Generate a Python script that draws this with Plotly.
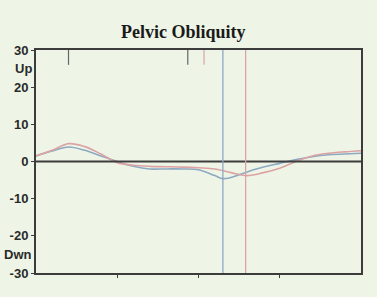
import plotly.graph_objects as go

pct = [0, 5, 10, 15, 20, 25, 30, 35, 40, 45, 50, 55, 57.5, 60, 65, 70, 75, 80, 85, 90, 95, 100]
blue_vals = [1.5, 2.8, 3.9, 3.0, 1.5, 0.0, -1.3, -2.0, -2.0, -2.0, -2.2, -3.8, -4.6, -4.3, -2.8, -1.5, -0.5, 0.5, 1.3, 1.8, 2.0, 2.2]
red_pct = [0, 5, 10, 15, 20, 25, 30, 35, 40, 45, 50, 55, 60, 65, 70, 75, 80, 85, 90, 95, 100]
red_vals = [1.5, 3.0, 4.8, 4.0, 2.0, -0.3, -1.0, -1.3, -1.4, -1.5, -1.7, -2.0, -3.0, -3.8, -3.0, -1.8, 0.0, 1.5, 2.2, 2.6, 2.9]

blue_event = 57.5
red_event = 64.5
dark_marks = [10, 46.7]
red_marks = [51.7]

ytick_vals = [30, 20, 10, 0, -10, -20, -30]
ytick_text = ["30", "20", "10", "0", "-10", "-20", "-30"]

BLUE = "#8ea9c2"
RED = "#dba3a3"
DARK = "#3c3c3c"
BG = "#eef5e7"

fig = go.Figure()
fig.add_trace(go.Scatter(x=pct, y=blue_vals, mode="lines", line=dict(color=BLUE, width=1.6, shape="spline"), hoverinfo="skip"))
fig.add_trace(go.Scatter(x=red_pct, y=red_vals, mode="lines", line=dict(color=RED, width=1.6, shape="spline"), hoverinfo="skip"))

shapes = [
    dict(type="line", x0=0, x1=100, y0=0, y1=0, xref="x", yref="y", line=dict(color=DARK, width=2)),
    dict(type="line", x0=blue_event, x1=blue_event, y0=-30, y1=30, xref="x", yref="y", line=dict(color=BLUE, width=1.3)),
    dict(type="line", x0=red_event, x1=red_event, y0=-30, y1=30, xref="x", yref="y", line=dict(color=RED, width=1.3)),
]
for m in dark_marks:
    shapes.append(dict(type="line", x0=m, x1=m, y0=30, y1=26, xref="x", yref="y", line=dict(color="#666666", width=1.2)))
for m in red_marks:
    shapes.append(dict(type="line", x0=m, x1=m, y0=30, y1=26, xref="x", yref="y", line=dict(color=RED, width=1.2)))

L, R, T, B = 36, 16, 50, 24
W, H = 377, 297
pw, ph = W - L - R, H - T - B

annotations = [
    dict(text="<b>Pelvic Obliquity</b>", x=(183 - L) / pw, y=(H - B - 32) / ph, xref="paper", yref="paper",
         yanchor="middle", showarrow=False,
         font=dict(family="Liberation Serif", size=18, color="#1a1a1a")),
    dict(text="<b>Up</b>", x=-0.005, y=25, xref="paper", yref="y", xanchor="right", showarrow=False,
         font=dict(family="Liberation Sans", size=13, color="#2a2a2a")),
    dict(text="<b>Dwn</b>", x=-0.005, y=-25, xref="paper", yref="y", xanchor="right", showarrow=False,
         font=dict(family="Liberation Sans", size=13, color="#2a2a2a")),
]

fig.update_layout(
    width=W, height=H,
    margin=dict(l=L, r=R, t=T, b=B, autoexpand=False),
    paper_bgcolor=BG, plot_bgcolor=BG,
    showlegend=False,
    shapes=shapes,
    annotations=annotations,
    xaxis=dict(range=[0, 100], tickvals=[25, 50, 75], ticktext=["", "", ""], ticks="outside", ticklen=3,
               tickcolor=DARK, showgrid=False, zeroline=False, showline=True, linecolor=DARK, linewidth=2,
               mirror=True, fixedrange=True, automargin=False),
    yaxis=dict(range=[-30, 30], tickvals=ytick_vals, ticktext=["<b>%s</b>" % t for t in ytick_text],
               ticks="outside", ticklen=3, tickcolor=DARK, showgrid=False, zeroline=False, showline=True,
               linecolor=DARK, linewidth=2, mirror=True, fixedrange=True, automargin=False,
               tickfont=dict(family="Liberation Sans", size=13, color="#2a2a2a")),
)

post = "document.body.style.margin='0';document.body.style.padding='0';document.body.style.background='%s';document.documentElement.style.background='%s';document.body.style.overflow='hidden';" % (BG, BG)
fig.write_html("out.html", config={"displayModeBar": False}, post_script=post)
